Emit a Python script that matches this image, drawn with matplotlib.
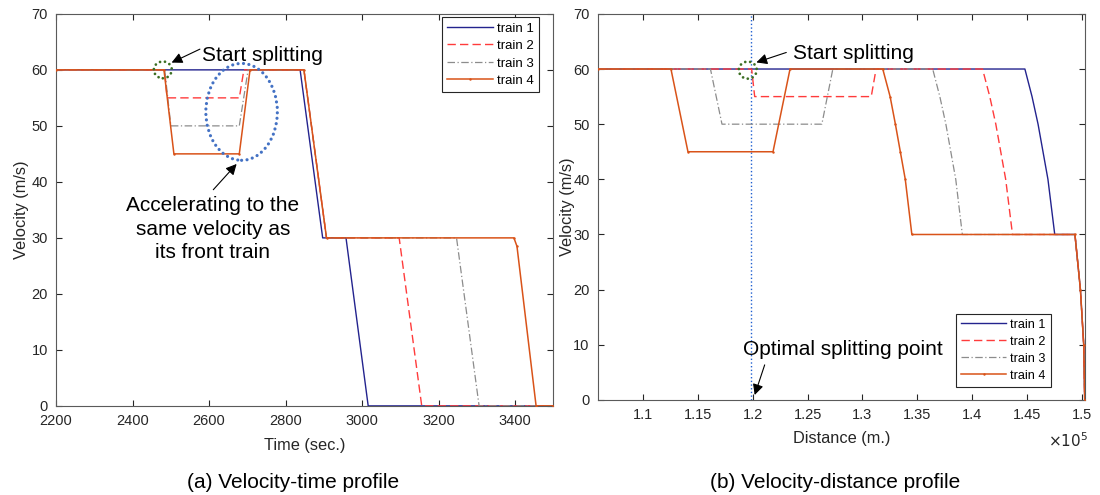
import matplotlib
matplotlib.use("Agg")
import matplotlib.pyplot as plt
from matplotlib.patches import Ellipse
from matplotlib.ticker import FuncFormatter

plt.rcParams['font.family'] = ['Liberation Sans', 'DejaVu Sans']

# (a) velocity-time profile, time in s, velocity in m/s
t1 = [2200, 2838, 2897, 2958, 3016, 3500]
v1 = [60, 60, 30, 30, 0, 0]
t2 = [2200, 2484, 2490, 2679, 2691, 2848, 2907, 3097, 3156, 3500]
v2 = [60, 60, 55, 55, 60, 60, 30, 30, 0, 0]
t3 = [2200, 2484, 2500, 2679, 2702, 2848, 2907, 3247, 3306, 3500]
v3 = [60, 60, 50, 50, 60, 60, 30, 30, 0, 0]
t4 = [2200, 2482, 2508, 2679, 2707, 2848, 2907, 3397, 3405, 3455, 3500]
v4 = [60, 60, 45, 45, 60, 60, 30, 30, 28.5, 0, 0]

# (b) velocity-distance profile, distance in m
d1 = [105900, 144800, 145450, 146000, 146450, 146900, 147520, 149360, 149860, 150160, 150250]
w1 = [60, 60, 55, 50, 45, 40, 30, 30, 20, 10, 0]
d2 = [105900, 119900, 120180, 130800, 131240, 140940, 141600, 142150, 142600, 143050, 143670,
      149360, 149860, 150160, 150250]
w2 = [60, 60, 55, 55, 60, 60, 55, 50, 45, 40, 30, 30, 20, 10, 0]
d3 = [105900, 116150, 117200, 126300, 127300, 136400, 137050, 137600, 138050, 138500, 139100,
      149360, 149860, 150160, 150250]
w3 = [60, 60, 50, 50, 60, 60, 55, 50, 45, 40, 30, 30, 20, 10, 0]
d4 = [105900, 112550, 114100, 121850, 123400, 131850, 132520, 133000, 133450, 133900, 134500,
      149360, 149860, 150160, 150250]
w4 = [60, 60, 45, 45, 60, 60, 55, 50, 45, 40, 30, 30, 20, 10, 0]

labels = ['train 1', 'train 2', 'train 3', 'train 4']
split_point = 119800

NAVY = '#23238E'
RED = '#FF3B3B'
GRAY = '#8C8C8C'
ORANGE = '#D95319'
TXT = '#262626'

fig = plt.figure(figsize=(11, 4.95), dpi=100)
ax1 = fig.add_axes([0.051, 0.180, 0.452, 0.792])
ax2 = fig.add_axes([0.5436, 0.192, 0.4427, 0.780])


def draw_lines(ax, xs, ys):
    ax.plot(xs[0], ys[0], color=NAVY, lw=1.0, label=labels[0], zorder=3)
    ax.plot(xs[1], ys[1], color=RED, lw=1.0, ls=(0, (6, 3)), label=labels[1], zorder=3)
    ax.plot(xs[2], ys[2], color=GRAY, lw=0.9, ls=(0, (6, 2, 1, 2)), label=labels[2], zorder=3)
    ax.plot(xs[3], ys[3], color=ORANGE, lw=1.1, marker='.', markersize=1.5, label=labels[3], zorder=4)


def style(ax):
    ax.set_ylim(0, 70)
    ax.set_yticks(range(0, 71, 10))
    ax.tick_params(direction='in', length=4, width=0.8, top=True, right=True,
                   labelsize=10.5, colors=TXT, pad=6)
    for s in ax.spines.values():
        s.set_color('#5a5a5a')
        s.set_linewidth(0.8)
    ax.set_ylabel('Velocity (m/s)', fontsize=11.8, color=TXT)


def dotted_ellipse(ax, center, w, h, color, lw, gap):
    e = Ellipse(center, w, h, fill=False, edgecolor=color, lw=lw,
                ls=(0, (0.01, gap)), zorder=5)
    e.set_capstyle('round')
    ax.add_patch(e)


draw_lines(ax1, [t1, t2, t3, t4], [v1, v2, v3, v4])
ax1.set_xlim(2200, 3500)
ax1.set_xticks(range(2200, 3401, 200))
style(ax1)
ax1.set_xlabel('Time (sec.)', fontsize=11.8, color=TXT)
ax1.xaxis.set_label_coords(0.5, -0.082)
ax1.yaxis.set_label_coords(-0.055, 0.5)

leg1 = ax1.legend(loc='upper right', bbox_to_anchor=(0.972, 0.992), borderaxespad=0,
                  fontsize=9.5, handlelength=3.5, handletextpad=0.3, labelspacing=0.4,
                  fancybox=False, framealpha=1, edgecolor=TXT, borderpad=0.4)
leg1.get_frame().set_linewidth(0.8)

# circles
dotted_ellipse(ax1, (2479, 60), 47, 3.0, '#3B6E22', 2.0, 1.8)
dotted_ellipse(ax1, (2685, 52.5), 187, 17.3, '#4472C4', 2.3, 1.7)

arrow = dict(arrowstyle='-|>', color='black', lw=0.8, mutation_scale=16, shrinkA=0, shrinkB=0)
ax1.annotate('', xy=(2502, 61.3), xytext=(2576, 63.7), arrowprops=arrow)
ax1.text(2582, 62.6, 'Start splitting', fontsize=15, ha='left', va='center')
ax1.annotate('', xy=(2672, 43.2), xytext=(2611, 38.6), arrowprops=arrow)
ax1.text(2610, 37.4, 'Accelerating to the\nsame velocity as\nits front train', fontsize=15,
         ha='center', va='top', linespacing=1.3)

# right panel
draw_lines(ax2, [d1, d2, d3, d4], [w1, w2, w3, w4])
ax2.set_xlim(105900, 150270)
ax2.set_xticks([110000, 115000, 120000, 125000, 130000, 135000, 140000, 145000, 150000])
ax2.xaxis.set_major_formatter(FuncFormatter(lambda x, p: f'{x / 1e5:g}'))
style(ax2)
ax2.set_xlabel('Distance (m.)', fontsize=11.8, color=TXT)
ax2.xaxis.set_label_coords(0.5, -0.080)
ax2.yaxis.set_label_coords(-0.047, 0.5)
ax2.text(0.965, -0.106, r'$\times10^5$', transform=ax2.transAxes, fontsize=11,
         ha='center', va='center', color=TXT)

ax2.axvline(split_point, color='#1F5FD0', lw=1.0, ls=':', zorder=2)

leg2 = ax2.legend(loc='lower right', bbox_to_anchor=(0.930, 0.034), borderaxespad=0,
                  fontsize=9.1, handlelength=3.6, handletextpad=0.3, labelspacing=0.4,
                  fancybox=False, framealpha=1, edgecolor=TXT, borderpad=0.4)
leg2.get_frame().set_linewidth(0.8)

dotted_ellipse(ax2, (119550, 59.8), 1640, 3.1, '#3B6E22', 2.0, 1.8)
ax2.annotate('', xy=(120336, 61.2), xytext=(123060, 63.0), arrowprops=arrow)
ax2.text(123636, 62.8, 'Start splitting', fontsize=15, ha='left', va='center')
ax2.annotate('', xy=(120180, 0.9), xytext=(121090, 6.36), arrowprops=arrow)
ax2.text(119090, 9.2, 'Optimal splitting point', fontsize=15, ha='left', va='center')

fig.text(293.5 / 1100, 1 - 483 / 495, '(a) Velocity-time profile', fontsize=15,
         ha='center', va='center')
fig.text(835 / 1100, 1 - 483 / 495, '(b) Velocity-distance profile', fontsize=15,
         ha='center', va='center')

fig.savefig('out.png', dpi=100)
